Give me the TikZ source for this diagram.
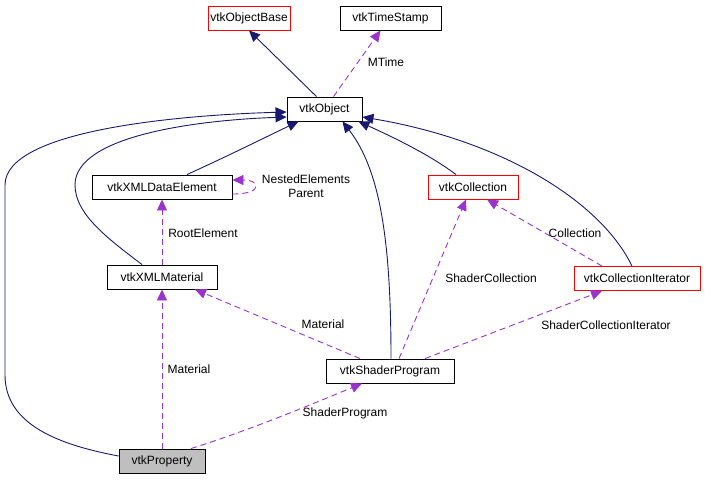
\documentclass[tikz,border=0pt]{standalone}
\usepackage{fontspec}
\setmainfont{Liberation Sans}
\usetikzlibrary{arrows.meta}
\definecolor{edgeblue}{HTML}{191970}
\definecolor{edgepurple}{HTML}{9A32CD}
\definecolor{boxgray}{HTML}{BFBFBF}
\begin{document}
\begin{tikzpicture}[x=1pt,y=-1pt,
  font=\fontsize{12}{14}\selectfont,
  cls/.style={draw=black, line width=0.9pt, fill=white, minimum height=24pt, inner sep=0pt},
  redcls/.style={cls, draw=red},
  inh/.style={draw=edgeblue, line width=0.9pt, -{Triangle[length=11pt,width=10pt]}},
  usage/.style={draw=edgepurple, line width=0.9pt, dash pattern=on 6pt off 4pt, -{Triangle[length=11pt,width=10pt]}},
  lbl/.style={inner sep=0pt}]
\useasboundingbox (0,0) rectangle (708,480);

% nodes
\node[redcls, minimum width=82pt] (objbase) at (249,18) {vtkObjectBase};
\node[cls, minimum width=101pt] (ts) at (390.5,18) {vtkTimeStamp};
\node[cls, minimum width=75pt] (obj) at (324.5,109) {vtkObject};
\node[cls, minimum width=140pt] (xde) at (162,187) {vtkXMLDataElement};
\node[redcls, minimum width=90pt] (coll) at (473,187) {vtkCollection};
\node[cls, minimum width=110pt] (xmat) at (162,277) {vtkXMLMaterial};
\node[redcls, minimum width=126pt] (colit) at (637,278.5) {vtkCollectionIterator};
\node[cls, minimum width=128pt] (sp) at (390,371) {vtkShaderProgram};
\node[cls, fill=boxgray, minimum width=86pt] (prop) at (162,461) {vtkProperty};

% inheritance edges
\draw[inh] ([xshift=-8pt]obj.north) -- (objbase.south);
\draw[inh] ([xshift=25pt]xde.north) .. controls (230,155) and (270,135) .. ([xshift=12pt]obj.south west);
\draw[inh] ([xshift=-17pt]coll.north) .. controls (430,155) and (395,138) .. ([xshift=-4pt]obj.south east);
\draw[inh] ([xshift=1pt]sp.north) .. controls (391,240) and (380,170) .. ([xshift=18pt]obj.south);
\draw[inh] ([xshift=-5pt]colit.north) .. controls (600,200) and (500,140) .. ([yshift=-8pt]obj.east);
\draw[inh] ([xshift=-20pt]xmat.north) .. controls (110,240) and (75,215) .. (75,185) .. controls (75,135) and (200,120) .. ([yshift=-8pt]obj.west);
\draw[inh] ([yshift=5pt]prop.west) .. controls (60,445) and (5,425) .. (5,375) -- (5,185) .. controls (5,130) and (180,115) .. ([yshift=-3pt]obj.west);

% usage edges
\draw[usage] ([xshift=9pt]obj.north) -- ([xshift=-10pt]ts.south);
\draw[usage] ([yshift=-7pt]xde.east) .. controls (250,194) and (256,190) .. (256,186) .. controls (256,182) and (250,180) .. ([yshift=7pt]xde.east);
\draw[usage] (xmat.north) -- (xde.south);
\draw[usage] (prop.north) -- (xmat.south);
\draw[usage] ([xshift=-30pt]sp.north) -- ([xshift=33pt]xmat.south);
\draw[usage] ([xshift=9pt]sp.north) -- ([xshift=-7pt]coll.south);
\draw[usage] ([xshift=35pt]sp.north) -- ([xshift=-35pt]colit.south);
\draw[usage] ([xshift=-35pt]colit.north) -- ([xshift=14pt]coll.south);
\draw[usage] ([xshift=29pt]prop.north) .. controls (250,430) and (310,405) .. ([xshift=-28pt]sp.south);

% labels
\node[lbl] (lmtime) at (386,62) {MTime};
\node[lbl, align=center] (lnested) at (306,186) {NestedElements\\Parent};
\node[lbl] (lroot) at (203,233) {RootElement};
\node[lbl] (lcoll) at (575,233) {Collection};
\node[lbl] (lshcoll) at (491,278) {ShaderCollection};
\node[lbl] (lmat1) at (323,324) {Material};
\node[lbl] (lshit) at (606,325) {ShaderCollectionIterator};
\node[lbl] (lmat2) at (189,369) {Material};
\node[lbl] (lsp) at (345,413) {ShaderProgram};
\end{tikzpicture}
\end{document}
